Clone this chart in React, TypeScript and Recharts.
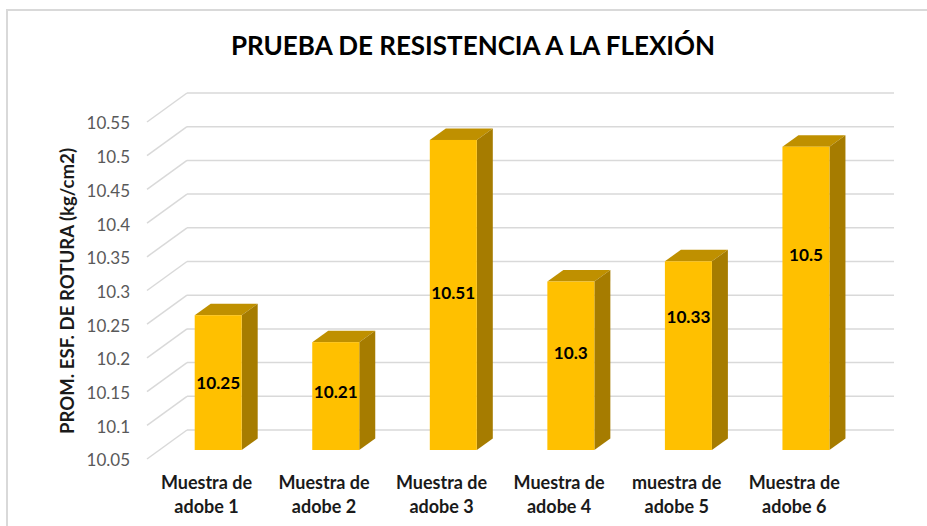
import React from "react";
import { ComposedChart, Bar, XAxis, YAxis, CartesianGrid, LabelList, Label } from "recharts";

const categories = ["Muestra de adobe 1", "Muestra de adobe 2", "Muestra de adobe 3", "Muestra de adobe 4", "muestra de adobe 5", "Muestra de adobe 6"];
const values = [10.25, 10.21, 10.51, 10.3, 10.33, 10.5];
const yTicks = [10.05, 10.1, 10.15, 10.2, 10.25, 10.3, 10.35, 10.4, 10.45, 10.5, 10.55];
const title = "PRUEBA DE RESISTENCIA A LA FLEXIÓN";
const yTitle = "PROM. ESF. DE ROTURA (kg/cm2)";

const data = categories.map((name, i) => ({ name, value: values[i] }));

const FONT = "Lato, Carlito, sans-serif";
const DX = 16;
const DY = 11.5;
const labelShift = [0, -4, -2, -13, -39, -43];

function Bar3D(props: any) {
  const { x, y, width, height } = props;
  const r = x + width;
  const b = y + height;
  return (
    <g>
      <polygon points={`${x},${y} ${x + DX},${y - DY} ${r + DX},${y - DY} ${r},${y}`} fill="#BF9000" />
      <polygon points={`${r},${y} ${r + DX},${y - DY} ${r + DX},${b - DY} ${r},${b}`} fill="#A67C00" />
      <rect x={x} y={y} width={width} height={height} fill="#FFC000" />
    </g>
  );
}

function GridLine(props: any) {
  const { x1, x2, y1 } = props;
  return (
    <g>
      <line x1={x1 - 12.7} y1={y1 + 9} x2={x1 + 27.3} y2={y1 - 20} stroke="#D9D9D9" strokeWidth={1.5} />
      <line x1={x1 + 27.3} y1={y1 - 20} x2={x2 + 29} y2={y1 - 20} stroke="#D9D9D9" strokeWidth={1.5} />
    </g>
  );
}

function XTick(props: any) {
  const { x, y, payload } = props;
  const words = String(payload.value).split(" ");
  const second = words.slice(-2).join(" ");
  const first = words.slice(0, -2).join(" ");
  return (
    <text x={x - 12} textAnchor="middle" fontFamily={FONT} fontWeight={700} fontSize={18} fill="#1A1A1A">
      <tspan x={x - 12} y={y + 31}>{first}</tspan>
      <tspan x={x - 12} y={y + 55}>{second}</tspan>
    </text>
  );
}

function YTick(props: any) {
  const { y, payload } = props;
  return (
    <text x={130} y={y + 10.5} dy="0.35em" textAnchor="end" fontFamily={FONT} fontSize={17} fill="#595959">
      {String(payload.value)}
    </text>
  );
}

function ValueLabel(props: any) {
  const { x, y, width, height, value, index } = props;
  return (
    <text
      x={x + width / 2}
      y={y + height / 2 + labelShift[index]}
      dy="0.35em"
      textAnchor="middle"
      fontFamily={FONT}
      fontWeight={700}
      fontSize={17.2}
      fill="#000000"
    >
      {String(value)}
    </text>
  );
}

function YTitle() {
  return (
    <text
      transform="translate(67,291) rotate(-90)"
      dy="0.35em"
      textAnchor="middle"
      fontFamily={FONT}
      fontWeight={700}
      fontSize={18.6}
      fill="#1A1A1A"
    >
      {yTitle}
    </text>
  );
}

export default function App() {
  return (
    <div style={{ position: "absolute", left: 0, top: 0, width: 927, height: 526, background: "#fff", overflow: "hidden" }}>
      <div style={{ position: "absolute", left: 6, top: 9, right: 0, bottom: 0, borderTop: "2px solid #D9D9D9", borderLeft: "2px solid #D9D9D9" }} />
      <div
        style={{
          position: "absolute",
          left: 0,
          width: 946,
          top: 27,
          textAlign: "center",
          fontFamily: FONT,
          fontWeight: 700,
          fontSize: 26,
          lineHeight: "36px",
          color: "#000000",
          whiteSpace: "nowrap",
        }}
      >
        {title}
      </div>
      <div style={{ position: "absolute", left: 0, top: 0 }}>
        <ComposedChart width={927} height={526} data={data} margin={{ top: 113, bottom: 0, left: 99.7, right: 62 }}>
          <CartesianGrid vertical={false} horizontal={(p: any) => <GridLine key={p.key ?? p.y1} {...p} />} />
          <XAxis dataKey="name" height={76} axisLine={false} tickLine={false} tick={<XTick />} interval={0} />
          <YAxis
            width={60}
            domain={[10.05, 10.55]}
            ticks={yTicks}
            allowDataOverflow
            axisLine={false}
            tickLine={false}
            tick={<YTick />}
          >
            <Label content={<YTitle />} />
          </YAxis>
          <Bar dataKey="value" barSize={47} shape={<Bar3D />} isAnimationActive={false}>
            <LabelList dataKey="value" content={<ValueLabel />} />
          </Bar>
        </ComposedChart>
      </div>
    </div>
  );
}
